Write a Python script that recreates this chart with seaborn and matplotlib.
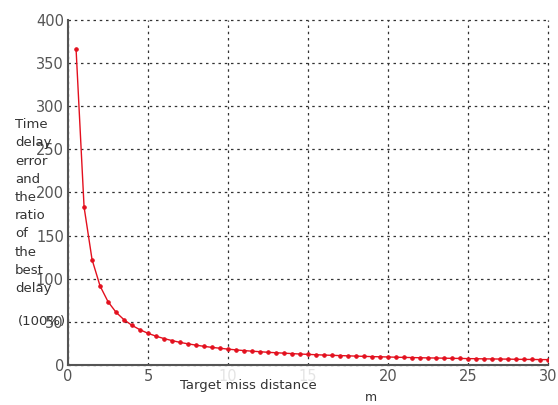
import pandas as pd
import matplotlib.pyplot as plt
import seaborn as sns

# Values (x step 0.5 m)
miss_distance = [0.5, 1, 1.5, 2, 2.5, 3, 3.5, 4, 4.5, 5,
                 5.5, 6, 6.5, 7, 7.5, 8, 8.5, 9, 9.5, 10,
                 10.5, 11, 11.5, 12, 12.5, 13, 13.5, 14, 14.5, 15,
                 15.5, 16, 16.5, 17, 17.5, 18, 18.5, 19, 19.5, 20,
                 20.5, 21, 21.5, 22, 22.5, 23, 23.5, 24, 24.5, 25,
                 25.5, 26, 26.5, 27, 27.5, 28, 28.5, 29, 29.5, 30]
delay_ratio = [366, 183, 122, 91.5, 73.2, 61, 52.3, 45.8, 40.7, 36.6,
               33.3, 30.5, 28.2, 26.1, 24.4, 22.9, 21.5, 20.3, 19.3, 18.3,
               17.4, 16.6, 15.9, 15.3, 14.6, 14.1, 13.6, 13.1, 12.6, 12.2,
               11.8, 11.4, 11.1, 10.8, 10.5, 10.2, 9.9, 9.6, 9.4, 9.2,
               8.9, 8.7, 8.5, 8.3, 8.1, 8.0, 7.8, 7.6, 7.5, 7.3,
               7.2, 7.0, 6.9, 6.8, 6.7, 6.5, 6.4, 6.3, 6.2, 6.1]
x_ticks = [0, 5, 10, 15, 20, 25, 30]
y_ticks = [0, 50, 100, 150, 200, 250, 300, 350, 400]

df = pd.DataFrame({"x": miss_distance, "y": delay_ratio})

sns.set_style("white")
fig = plt.figure(figsize=(5.58, 4.05), dpi=100)
ax = fig.add_axes([0.122, 0.099, 0.860, 0.852])

sns.lineplot(data=df, x="x", y="y", ax=ax, color="#e3101e", linewidth=1.0,
             marker=".", markersize=5, markeredgecolor="#e3101e")

ax.set_xlim(0, 30)
ax.set_ylim(0, 400)
ax.set_xticks(x_ticks)
ax.set_yticks(y_ticks)
ax.tick_params(axis="both", labelsize=10.5, labelcolor="#555555", length=0, pad=3)
# the 10 and 15 labels are washed out in the original
for lbl in ax.get_xticklabels():
    if lbl.get_text() in ("10", "15"):
        lbl.set_color("#e4e4e4")

ax.grid(True, color="#333333", linestyle=(0, (2, 3)), linewidth=0.9)
for gl in ax.get_xgridlines() + ax.get_ygridlines():
    gl.set_clip_on(False)
for side in ["top", "right"]:
    ax.spines[side].set_visible(False)
for side in ["left", "bottom"]:
    ax.spines[side].set_color("#555555")
    ax.spines[side].set_linewidth(1.5)
    ax.spines[side].set_zorder(3)

ax.set_xlabel("")
ax.set_ylabel("")
fig.text(0.027, 0.708,
         "Time\ndelay\nerror\nand\nthe\nratio\nof\nthe\nbest\ndelay",
         fontsize=9.5, color="#333333", ha="left", va="top", linespacing=1.52)
fig.text(0.032, 0.205, "(100%)", fontsize=9.5, color="#333333",
         ha="left", va="center")
fig.text(0.322, 0.048, "Target miss distance", fontsize=9.5, color="#333333",
         ha="left", va="center")
fig.text(0.664, 0.018, "m", fontsize=9, color="#333333", ha="center", va="center")

plt.savefig("out.png", dpi=100)
